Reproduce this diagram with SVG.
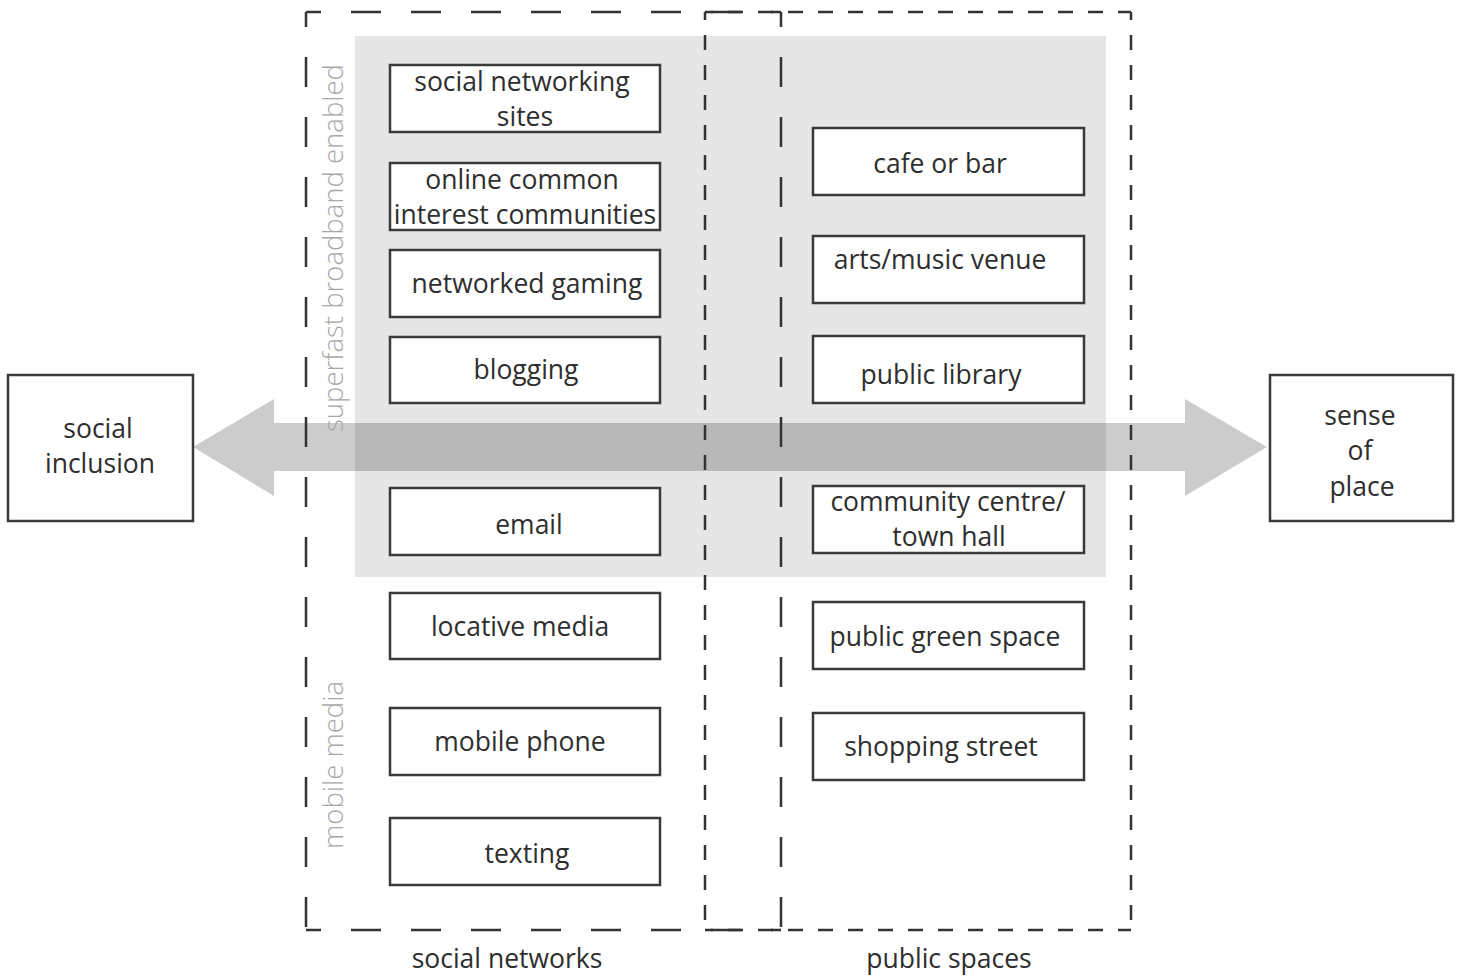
<svg xmlns="http://www.w3.org/2000/svg" width="1458" height="976" viewBox="0 0 1458 976">
<style>
.box{fill:#fff;stroke:#3a3a3a;stroke-width:2.5}
.t{font-family:"Open Sans","Noto Sans","DejaVu Sans",sans-serif;font-size:26.5px;fill:#2e2e2e;text-anchor:middle}
.v{font-family:"Open Sans","Noto Sans","DejaVu Sans",sans-serif;font-size:27.5px;font-weight:300;fill:#a8a8a8;text-anchor:middle}
.ld{stroke:#333;stroke-width:2.5;fill:none;stroke-dasharray:30 30;stroke-dashoffset:15}
.sd{stroke:#333;stroke-width:2.5;fill:none;stroke-dasharray:15 15;stroke-dashoffset:7}
</style>
<rect id="band" x="355" y="36" width="751" height="541" fill="#e6e6e6"/>
<g id="connectors">
<polygon points="193,447 274,399 274,423 1185,423 1185,399 1267,447 1185,496 1185,471 274,471 274,496" fill="#000" fill-opacity="0.2"/>
</g>
<g id="group-social-networks">
<line class="ld" x1="306" y1="12" x2="781" y2="12"/>
<line class="ld" x1="306" y1="12" x2="306" y2="930"/>
<line class="ld" x1="781" y1="12" x2="781" y2="930"/>
<line class="ld" x1="306" y1="930" x2="781" y2="930"/>
<text class="t" x="507" y="968">social networks</text>
</g>
<g id="group-public-spaces">
<line class="sd" x1="705" y1="12" x2="1131" y2="12"/>
<line class="sd" x1="705" y1="12" x2="705" y2="930"/>
<line class="sd" x1="1131" y1="12" x2="1131" y2="930"/>
<line class="sd" x1="705" y1="930" x2="1131" y2="930"/>
<text class="t" x="949" y="968">public spaces</text>
</g>
<g id="label-superfast"><text class="v" transform="translate(343,248) rotate(-90)">superfast broadband enabled</text></g>
<g id="label-mobile"><text class="v" transform="translate(343,765) rotate(-90)">mobile media</text></g>
<g id="social-inclusion"><rect class="box" x="8" y="375" width="185" height="146"/><text class="t" x="98" y="438">social</text><text class="t" x="100" y="473">inclusion</text></g>
<g id="sense-of-place"><rect class="box" x="1270" y="375" width="183" height="146"/><text class="t" x="1360" y="425">sense</text><text class="t" x="1360" y="460">of</text><text class="t" x="1362" y="496">place</text></g>
<g id="social-networking-sites"><rect class="box" x="390" y="65" width="270" height="67"/><text class="t" x="522" y="91">social networking</text><text class="t" x="525" y="126">sites</text></g>
<g id="online-communities"><rect class="box" x="390" y="163" width="270" height="67"/><text class="t" x="522" y="189">online common</text><text class="t" x="525" y="224">interest communities</text></g>
<g id="networked-gaming"><rect class="box" x="390" y="250" width="270" height="67"/><text class="t" x="527" y="293">networked gaming</text></g>
<g id="blogging"><rect class="box" x="390" y="337" width="270" height="66"/><text class="t" x="526" y="379">blogging</text></g>
<g id="email"><rect class="box" x="390" y="488" width="270" height="67"/><text class="t" x="529" y="534">email</text></g>
<g id="locative-media"><rect class="box" x="390" y="593" width="270" height="66"/><text class="t" x="520" y="636">locative media</text></g>
<g id="mobile-phone"><rect class="box" x="390" y="708" width="270" height="67"/><text class="t" x="520" y="751">mobile phone</text></g>
<g id="texting"><rect class="box" x="390" y="818" width="270" height="67"/><text class="t" x="527" y="863">texting</text></g>
<g id="cafe-or-bar"><rect class="box" x="813" y="128" width="271" height="67"/><text class="t" x="940" y="173">cafe or bar</text></g>
<g id="arts-music-venue"><rect class="box" x="813" y="236" width="271" height="67"/><text class="t" x="940" y="269">arts/music venue</text></g>
<g id="public-library"><rect class="box" x="813" y="336" width="271" height="67"/><text class="t" x="941" y="384">public library</text></g>
<g id="community-centre"><rect class="box" x="813" y="486" width="271" height="67"/><text class="t" x="948" y="511">community centre/</text><text class="t" x="949" y="546">town hall</text></g>
<g id="public-green-space"><rect class="box" x="813" y="602" width="271" height="67"/><text class="t" x="945" y="646">public green space</text></g>
<g id="shopping-street"><rect class="box" x="813" y="713" width="271" height="67"/><text class="t" x="941" y="756">shopping street</text></g>
</svg>
